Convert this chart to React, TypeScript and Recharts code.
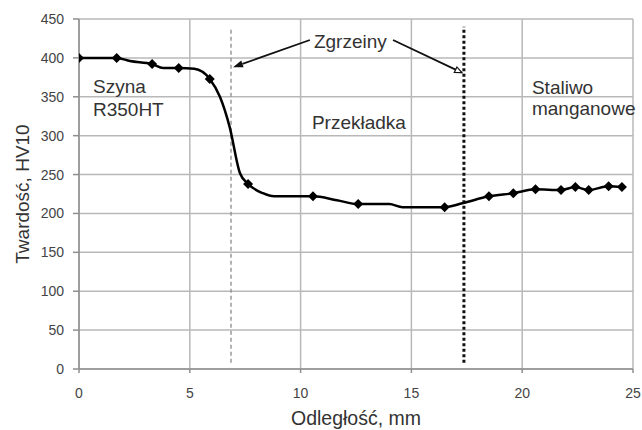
import React from 'react';
import {
  ComposedChart,
  Line,
  Scatter,
  XAxis,
  YAxis,
  CartesianGrid,
  ReferenceLine,
  ReferenceDot,
} from 'recharts';

// hardness profile curve (smoothed line)
const curveX = [0, 1.7, 2.3, 3.3, 3.8, 4.5, 5.2, 5.9, 6.36, 6.8, 7.26, 7.63, 8.3, 8.8, 10.56, 11.64, 12.6, 14.0, 14.6, 16.5, 17.3, 18.5, 19.6, 20.6, 21.75, 22.4, 23.0, 23.9, 24.5];
const curveY = [400, 400, 396, 392, 387, 387, 386, 373, 350, 311, 252, 238, 226, 222, 222, 217, 212, 212, 208, 208, 213, 222, 226, 231, 230, 234, 230, 235, 234];

// measurement points (diamond markers)
const markerX = [0, 1.7, 3.3, 4.5, 5.9, 7.63, 10.56, 12.6, 16.5, 18.5, 19.6, 20.6, 21.75, 22.4, 23.0, 23.9, 24.5];
const markerY = [400, 400, 392, 387, 373, 238, 222, 212, 208, 222, 226, 231, 230, 234, 230, 235, 234];

const xTicks = [0, 5, 10, 15, 20, 25];
const yTicks = [0, 50, 100, 150, 200, 250, 300, 350, 400, 450];

const weldLeft = 6.86;
const weldRight = 17.37;

const xTitle = 'Odległość, mm';
const yTitle = 'Twardość, HV10';

const curveData = curveX.map((x, i) => ({ x, y: curveY[i] }));
const markerData = markerX.map((x, i) => ({ x, y: markerY[i] }));

const FONT = '"Liberation Sans", Arial, sans-serif';
const TEXT = '#333333';

const Diamond = (p: any) => {
  const { cx, cy } = p;
  const r = 5;
  return (
    <polygon
      points={`${cx},${cy - r} ${cx + r},${cy} ${cx},${cy + r} ${cx - r},${cy}`}
      fill="#000"
    />
  );
};

const FilledArrow = (p: any) => {
  const { x1, y1, x2, y2 } = p;
  const ang = Math.atan2(y2 - y1, x2 - x1);
  const L = 10;
  const W = 3.5;
  const bx = x2 - L * Math.cos(ang);
  const by = y2 - L * Math.sin(ang);
  const px = -Math.sin(ang) * W;
  const py = Math.cos(ang) * W;
  return (
    <g>
      <line x1={x1} y1={y1} x2={bx} y2={by} stroke="#111" strokeWidth={1.8} />
      <polygon points={`${x2},${y2} ${bx + px},${by + py} ${bx - px},${by - py}`} fill="#111" />
    </g>
  );
};

const OpenArrow = (p: any) => {
  const { x1, y1, x2, y2 } = p;
  const ang = Math.atan2(y2 - y1, x2 - x1);
  const L = 7;
  const W = 3;
  const bx = x2 - L * Math.cos(ang);
  const by = y2 - L * Math.sin(ang);
  const px = -Math.sin(ang) * W;
  const py = Math.cos(ang) * W;
  return (
    <g>
      <line x1={x1} y1={y1} x2={x2} y2={y2} stroke="#111" strokeWidth={1.8} />
      <polygon
        points={`${x2},${y2} ${bx + px},${by + py} ${bx - px},${by - py}`}
        fill="#fff"
        stroke="#111"
        strokeWidth={1.2}
      />
    </g>
  );
};

const makeText = (value: string) => (p: any) => (
  <text x={p.cx} y={p.cy} fill={TEXT} fontSize={19} fontFamily={FONT} textAnchor="start">
    {value}
  </text>
);

const annotations = [
  { text: 'Szyna', x: 0.63, y: 355 },
  { text: 'R350HT', x: 0.63, y: 325 },
  { text: 'Przekładka', x: 10.51, y: 309 },
  { text: 'Staliwo', x: 20.44, y: 354 },
  { text: 'manganowe', x: 20.44, y: 327 },
  { text: 'Zgrzeiny', x: 10.6, y: 413 },
];

export default function App() {
  return (
    <div style={{ position: 'absolute', left: 0, top: 0, width: 642, height: 430, background: '#fff' }}>
      <ComposedChart width={642} height={430} margin={{ top: 19, right: 9, bottom: 0, left: 0 }}>
        <CartesianGrid stroke="#b8b8b8" strokeWidth={1.5} horizontalValues={yTicks} verticalValues={xTicks} />
        <XAxis
          type="number"
          dataKey="x"
          domain={[0, 25]}
          ticks={xTicks}
          height={61}
          tickSize={4}
          tickMargin={15}
          stroke="#8f8f8f"
          strokeWidth={1.5}
          tick={{ fill: '#444', fontSize: 14, fontFamily: FONT }}
          label={{ value: xTitle, position: 'insideBottom', offset: 5, fill: TEXT, fontSize: 19.5, fontFamily: FONT }}
          allowDataOverflow
        />
        <YAxis
          type="number"
          dataKey="y"
          domain={[0, 450]}
          ticks={yTicks}
          width={79}
          tickSize={6}
          tickMargin={9}
          stroke="#8f8f8f"
          strokeWidth={1.5}
          tick={{ fill: '#444', fontSize: 14, fontFamily: FONT }}
          label={{
            value: yTitle,
            angle: -90,
            position: 'insideLeft',
            offset: 22,
            fill: TEXT,
            fontSize: 19,
            fontFamily: FONT,
            style: { textAnchor: 'middle' },
          }}
          allowDataOverflow
        />
        <ReferenceLine
          segment={[{ x: weldLeft, y: 8 }, { x: weldLeft, y: 440 }]}
          stroke="#8a8a8a"
          strokeWidth={1.3}
          strokeDasharray="4 3"
        />
        <ReferenceLine
          segment={[{ x: weldRight, y: 8 }, { x: weldRight, y: 440 }]}
          stroke="#111"
          strokeWidth={3}
          strokeDasharray="3 2.5"
        />
        <Line
          data={curveData}
          dataKey="y"
          type="monotone"
          stroke="#000"
          strokeWidth={2.5}
          dot={false}
          isAnimationActive={false}
        />
        <Scatter data={markerData} dataKey="y" shape={Diamond} isAnimationActive={false} />
        <ReferenceLine
          segment={[{ x: 10.42, y: 423 }, { x: 6.95, y: 388 }]}
          shape={FilledArrow}
        />
        <ReferenceLine
          segment={[{ x: 14.17, y: 423 }, { x: 17.28, y: 381 }]}
          shape={OpenArrow}
        />
        {annotations.map((a) => (
          <ReferenceDot key={a.text} x={a.x} y={a.y} r={0} shape={makeText(a.text)} />
        ))}
      </ComposedChart>
    </div>
  );
}
